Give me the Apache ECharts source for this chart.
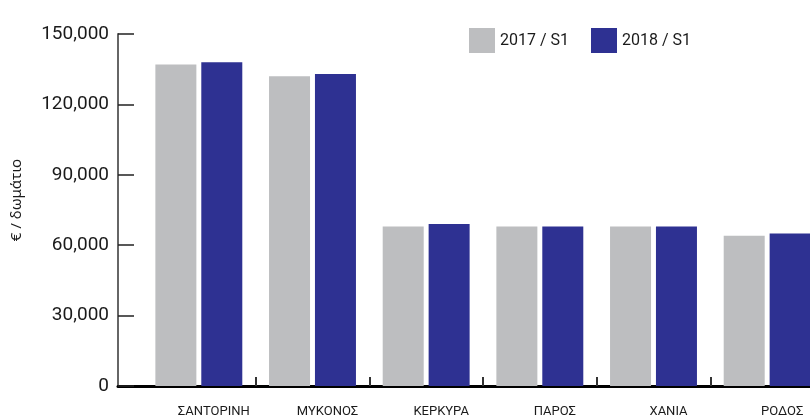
<!DOCTYPE html>
<html>
<head>
<meta charset="utf-8">
<script src="https://cdn.jsdelivr.net/npm/echarts@6/dist/echarts.min.js"></script>
<style>html,body{margin:0;padding:0;background:#fff;}#c{width:810px;height:416px;}</style>
</head>
<body>
<div id="c"></div>
<script>
const categories = ['ΣΑΝΤΟΡΙΝΗ', 'ΜΥΚΟΝΟΣ', 'ΚΕΡΚΥΡΑ', 'ΠΑΡΟΣ', 'ΧΑΝΙΑ', 'ΡΟΔΟΣ'];
const seriesNames = ['2017 / S1', '2018 / S1'];
const values2017 = [137000, 132000, 68000, 68000, 68000, 64000];
const values2018 = [138000, 133000, 69000, 68000, 68000, 65000];
const yMin = 0, yMax = 150000, yStep = 30000;
const yName = '€ / δωμάτιο';

const FONT = 'Roboto';
const chart = echarts.init(document.getElementById('c'), null, {renderer: 'canvas'});
chart.setOption({
  animation: false,
  backgroundColor: '#fff',
  textStyle: {fontFamily: FONT, color: '#1a1a1a'},
  legend: {
    data: seriesNames,
    left: 469, top: 28, padding: 0,
    itemWidth: 26, itemHeight: 25, itemGap: 22,
    icon: 'rect',
    textStyle: {fontSize: 16, color: '#1a1a1a', fontFamily: FONT}
  },
  grid: [
    {left: 118, right: 0, top: 34, bottom: 30, outerBoundsMode: 'none', containLabel: false},
    {left: 142, width: 682, top: 34, bottom: 30, outerBoundsMode: 'none', containLabel: false}
  ],
  xAxis: [
    {gridIndex: 0, type: 'value', min: 0, max: 1,
     axisLine: {show: true, lineStyle: {color: '#000', width: 3}},
     axisTick: {show: false}, axisLabel: {show: false}, splitLine: {show: false}},
    {gridIndex: 1, type: 'category', data: categories,
     axisLine: {show: false},
     axisTick: {show: true, inside: true, length: 9, interval: function (i) { return i > 0; },
                lineStyle: {color: '#333', width: 2}},
     axisLabel: {fontSize: 13, color: '#1a1a1a', margin: 19, padding: [0, 0, 0, 30], fontFamily: FONT},
     splitLine: {show: false}}
  ],
  yAxis: [
    {gridIndex: 0, type: 'value', min: yMin, max: yMax, interval: yStep,
     name: yName, nameLocation: 'middle', nameGap: 94, nameRotate: 90,
     nameTextStyle: {fontSize: 15, color: '#1a1a1a', fontFamily: 'Noto Sans', padding: [0, 0, 0, 20]},
     axisLine: {show: true, lineStyle: {color: '#666', width: 2}},
     axisTick: {show: true, inside: true, length: 16, lineStyle: {color: '#222', width: 1.5}},
     axisLabel: {fontSize: 19, color: '#1a1a1a', margin: 9, fontFamily: FONT},
     splitLine: {show: false}},
    {gridIndex: 1, type: 'value', min: yMin, max: yMax, interval: yStep, show: false,
     splitLine: {show: false}}
  ],
  series: [
    {name: seriesNames[0], type: 'bar', xAxisIndex: 1, yAxisIndex: 1, data: values2017,
     barWidth: 41, barGap: '12%', itemStyle: {color: '#BDBEC0'}},
    {name: seriesNames[1], type: 'bar', xAxisIndex: 1, yAxisIndex: 1, data: values2018,
     barWidth: 41, barGap: '12%', itemStyle: {color: '#2E3192'}}
  ]
});
</script>
</body>
</html>
